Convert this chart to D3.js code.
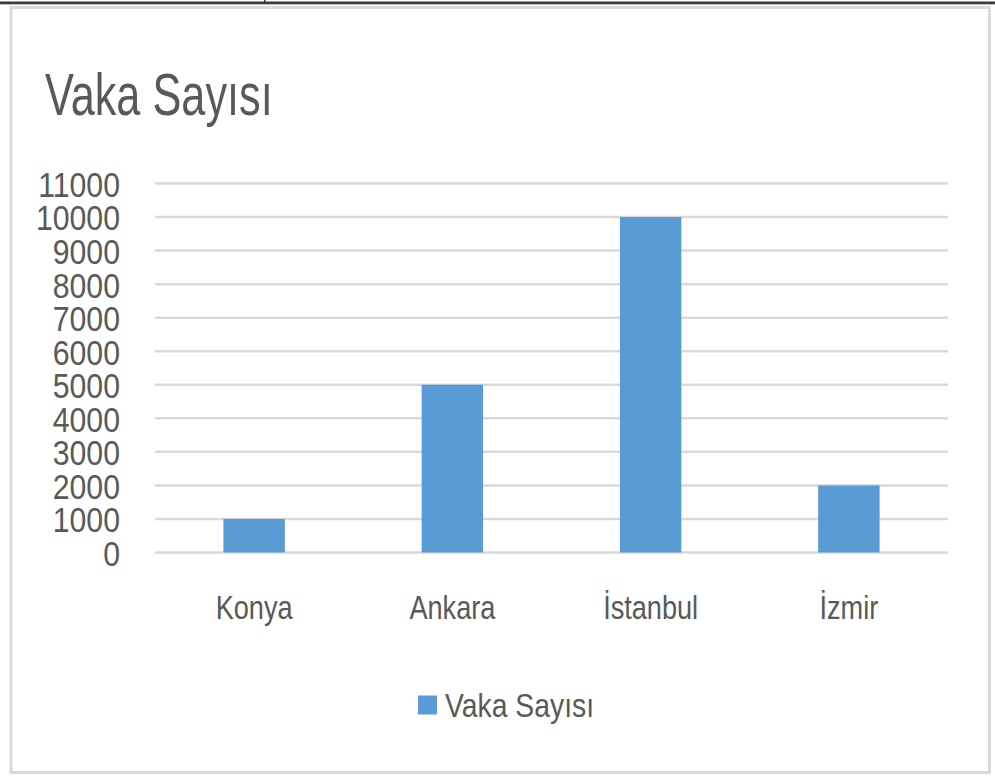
<!DOCTYPE html>
<html>
<head>
<meta charset="utf-8">
<script src="https://cdn.jsdelivr.net/npm/d3@7/dist/d3.min.js"></script>
<style>
  html, body { margin: 0; padding: 0; background: #fff; }
  svg { display: block; }
  text { font-family: "Liberation Sans", Arial, sans-serif; fill: #595959; }
</style>
</head>
<body>
<svg id="chart" width="995" height="778"></svg>
<script>
const title = "Vaka Sayısı";
const seriesName = "Vaka Sayısı";
const categories = ["Konya", "Ankara", "İstanbul", "İzmir"];
const values = [1000, 5000, 10000, 2000];
const yTicks = [0, 1000, 2000, 3000, 4000, 5000, 6000, 7000, 8000, 9000, 10000, 11000];

const svg = d3.select("#chart");
const W = 995, H = 778;

// top page line
svg.append("rect").attr("x", 0).attr("y", 1.5).attr("width", W).attr("height", 2.5).attr("fill", "#3a3a3a");
svg.append("rect").attr("x", 0).attr("y", 4).attr("width", W).attr("height", 1).attr("fill", "#bdbdbd");
svg.append("rect").attr("x", 264).attr("y", 0).attr("width", 1.5).attr("height", 2).attr("fill", "#3a3a3a");

// chart border
svg.append("rect").attr("x", 11).attr("y", 7.5).attr("width", 978.5).attr("height", 765)
  .attr("fill", "#fff").attr("stroke", "#d9d9d9").attr("stroke-width", 3);

const plot = { left: 155, right: 948, top: 183.5, bottom: 552.5 };

const x = d3.scaleBand().domain(categories).range([plot.left, plot.right])
  .paddingInner(0.69).paddingOuter(0.345);
const y = d3.scaleLinear().domain([0, 11000]).range([plot.bottom, plot.top]);

// gridlines
svg.append("g").selectAll("line").data(yTicks).join("line")
  .attr("x1", plot.left).attr("x2", plot.right)
  .attr("y1", d => y(d)).attr("y2", d => y(d))
  .attr("stroke", "#d9d9d9").attr("stroke-width", 2.5);

// bars
svg.append("g").selectAll("rect").data(values).join("rect")
  .attr("x", (d, i) => x(categories[i]))
  .attr("width", x.bandwidth())
  .attr("y", d => y(d))
  .attr("height", d => y(0) - y(d))
  .attr("fill", "#5b9bd5");

// y tick labels
const yAxis = d3.axisLeft(y).tickValues(yTicks).tickSize(0).tickFormat(d3.format("d"));
const yg = svg.append("g").attr("transform", "translate(120,0)").call(yAxis);
yg.select(".domain").remove();
yg.selectAll("text")
  .attr("x", 0).attr("dy", null)
  .attr("font-size", 36).attr("fill", "#595959")
  .style("font-family", "'Liberation Sans', Arial, sans-serif")
  .attr("dominant-baseline", "central")
  .each(function(d) {
    d3.select(this).attr("transform", `translate(0,${y(d) + 1}) scale(0.84,1) translate(0,${-y(d)})`);
  });
yg.selectAll(".tick").attr("transform", d => `translate(0,${y(d)})`);
yg.selectAll(".tick text").attr("transform", "translate(0,1) scale(0.84,1)");

// x category labels
const xAxis = d3.axisBottom(x).tickSize(0);
const xg = svg.append("g").attr("transform", "translate(0,619)").call(xAxis);
xg.select(".domain").remove();
xg.selectAll(".tick text")
  .attr("y", 0).attr("dy", null)
  .attr("font-size", 33.5).attr("fill", "#595959")
  .style("font-family", "'Liberation Sans', Arial, sans-serif")
  .attr("text-anchor", "middle")
  .attr("transform", "scale(0.81,1)");

// title
svg.append("text").attr("transform", "translate(45,115) scale(0.74,1)")
  .attr("font-size", 58.5).attr("fill", "#595959").text(title);

// legend
svg.append("rect").attr("x", 418).attr("y", 695.5).attr("width", 19).attr("height", 19).attr("fill", "#5b9bd5");
svg.append("text").attr("transform", "translate(445,716.5) scale(0.846,1)")
  .attr("font-size", 33.5).attr("fill", "#595959").text(seriesName);
</script>
</body>
</html>
